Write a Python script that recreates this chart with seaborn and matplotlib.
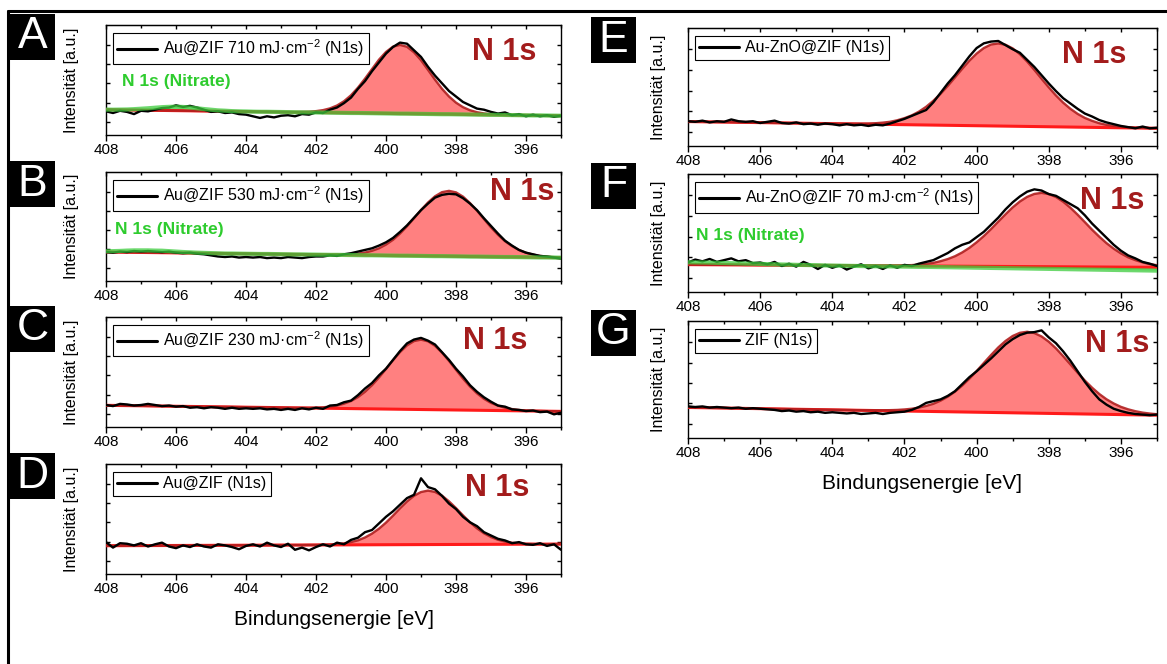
import numpy as np
import matplotlib
matplotlib.use("Agg")
import matplotlib.pyplot as plt
import seaborn as sns
from matplotlib.lines import Line2D
from matplotlib.patches import Rectangle
from matplotlib.ticker import MultipleLocator

# binding energy of the scans (eV), 408 -> 395 in 0.2 eV steps
energy = np.linspace(408.0, 395.0, 66)

# A: Au@ZIF 710 mJ/cm2
a_raw = [21.5, 20, 22, 21, 19, 22, 21.5, 23, 24.5, 25,
         27, 25.5, 26.5, 25, 23, 21, 21.5, 20, 20.5, 19,
         18.5, 17, 15.5, 17, 16, 17.5, 18, 17, 19, 18.5,
         20.5, 20, 23, 25, 29, 34, 42, 49, 58, 66,
         74, 80, 84, 83, 77, 71, 62, 54, 47, 40,
         35, 30, 27, 24, 23, 21, 19.5, 20.5, 18, 19,
         17, 18.5, 17, 18, 16.5, 17.5]
a_fit = [23.0, 22.9, 22.8, 22.7, 22.7, 22.6, 22.5, 22.4, 22.3, 22.2,
         22.2, 22.1, 22.0, 21.9, 21.8, 21.7, 21.6, 21.6, 21.5, 21.4,
         21.3, 21.2, 21.1, 21.1, 21.0, 20.9, 20.8, 20.7, 20.9, 21.1,
         21.7, 22.6, 24.2, 26.8, 30.7, 36.1, 43.1, 51.2, 59.9, 68.5,
         75.5, 80.3, 81.9, 80.2, 75.2, 68.0, 59.2, 50.3, 42.0, 35.0,
         29.4, 25.3, 22.5, 20.7, 19.6, 18.9, 18.5, 18.2, 18.1, 18.0,
         17.9, 17.8, 17.8, 17.7, 17.6, 17.5]
a_nitrate = [23.1, 23.0, 23.1, 23.2, 23.5, 23.9, 24.3, 24.8, 25.3, 25.6,
             25.7, 25.5, 25.0, 24.3, 23.6, 23.0, 22.4, 22.1, 21.7, 21.5,
             21.4, 21.2, 21.1, 21.1, 21.0, 20.9, 20.8, 20.7, 20.6, 20.5,
             20.5, 20.4, 20.3, 20.2, 20.1, 20.0, 20.0, 19.9, 19.8, 19.7,
             19.6, 19.5, 19.4, 19.4, 19.3, 19.2, 19.1, 19.0, 18.9, 18.9,
             18.8, 18.7, 18.6, 18.5, 18.4, 18.3, 18.3, 18.2, 18.1, 18.0,
             17.9, 17.8, 17.8, 17.7, 17.6, 17.5]
a_bg = [23.0, 17.5]

# B: Au@ZIF 530 mJ/cm2
b_raw = [26.5, 26, 27, 26.5, 27.5, 27, 27.5, 27, 26.5, 27,
         26, 25.5, 26, 25, 24.5, 23.5, 22.5, 22, 22.5, 21.5,
         22, 21.5, 22, 21, 21.5, 21, 22, 21.5, 21, 22,
         22.5, 22.5, 23.5, 23, 24.5, 25.5, 27, 28.5, 30, 32.5,
         35.5, 39.5, 45, 51, 58, 65, 71, 76.5, 79, 80,
         79.5, 76, 71, 65, 57.5, 50.5, 43.5, 37, 32.5, 28.5,
         26, 24.5, 23, 22.5, 21.5, 20.5]
b_fit = [26.6, 26.5, 26.4, 26.4, 26.3, 26.2, 26.1, 26.0, 26.0, 25.9,
         25.8, 25.7, 25.6, 25.6, 25.5, 25.4, 25.3, 25.2, 25.2, 25.1,
         25.0, 24.9, 24.8, 24.8, 24.7, 24.6, 24.5, 24.4, 24.4, 24.3,
         24.2, 24.1, 24.1, 24.2, 24.3, 24.6, 25.1, 26.1, 27.7, 30.0,
         33.4, 37.8, 43.5, 50.2, 57.6, 65.1, 72.0, 77.7, 81.5, 82.7,
         81.3, 77.4, 71.5, 64.5, 56.8, 49.2, 42.4, 36.5, 32.0, 28.4,
         25.9, 24.2, 23.0, 22.4, 21.9, 21.6]
b_nitrate = [27.3, 27.4, 27.6, 27.9, 28.1, 28.1, 28.1, 27.9, 27.8, 27.4,
             27.0, 26.6, 26.3, 26.0, 25.8, 25.6, 25.4, 25.2, 25.2, 25.1,
             25.0, 24.9, 24.8, 24.8, 24.7, 24.6, 24.5, 24.4, 24.4, 24.3,
             24.2, 24.1, 24.0, 24.0, 23.9, 23.8, 23.7, 23.6, 23.6, 23.5,
             23.4, 23.3, 23.2, 23.2, 23.1, 23.0, 22.9, 22.8, 22.8, 22.7,
             22.6, 22.5, 22.4, 22.4, 22.3, 22.2, 22.1, 22.0, 22.0, 21.9,
             21.8, 21.7, 21.6, 21.6, 21.5, 21.4]
b_bg = [26.6, 21.4]

# C: Au@ZIF 230 mJ/cm2
c_raw = [20, 19, 21, 20.5, 19.5, 20, 21, 20, 19, 19.5,
         18.5, 19, 17.5, 18, 17, 18, 17.5, 16.5, 17.5, 16.5,
         17, 16.5, 17, 16, 16.5, 15.5, 16.5, 15.5, 17, 16,
         17.5, 16.5, 19.5, 20, 22.5, 24, 29, 35, 40, 47,
         53, 61, 69, 76, 79.5, 81, 78.5, 75, 68, 61,
         53, 46, 38, 32, 27, 23, 19.5, 18.5, 16, 15.5,
         14.5, 15, 13.5, 14, 11.5, 13]
c_fit = [19.7, 19.6, 19.5, 19.4, 19.4, 19.3, 19.2, 19.1, 19.0, 18.9,
         18.9, 18.8, 18.7, 18.6, 18.5, 18.4, 18.3, 18.3, 18.2, 18.1,
         18.0, 17.9, 17.8, 17.8, 17.7, 17.6, 17.5, 17.4, 17.4, 17.4,
         17.6, 17.9, 18.5, 19.5, 21.2, 23.6, 27.2, 32.0, 38.0, 45.0,
         52.8, 60.7, 68.1, 74.2, 78.1, 79.4, 77.9, 73.8, 67.6, 60.1,
         52.0, 44.0, 36.8, 30.6, 25.6, 21.9, 19.4, 17.5, 16.3, 15.5,
         15.0, 14.7, 14.6, 14.4, 14.3, 14.2]
c_bg = [19.7, 14.2]

# D: Au@ZIF
d_raw = [29, 24, 28, 27.5, 26, 28, 25, 27, 28.5, 25,
         23.5, 26, 24.5, 27, 25, 24, 27, 26, 24.5, 22.5,
         25.5, 27, 25, 28.5, 26, 24.5, 27.5, 22, 24, 21.5,
         24.5, 27, 25, 28.5, 27, 31, 33, 38, 40, 46,
         52, 57, 63, 69, 72, 87, 79, 77, 71, 64,
         59, 52, 47, 43.5, 38, 35, 32, 30.5, 28, 29,
         27, 26.5, 28, 25.5, 27, 22]
d_fit = [25.7, 25.7, 25.7, 25.8, 25.8, 25.8, 25.8, 25.9, 25.9, 25.9,
         25.9, 25.9, 26.0, 26.0, 26.0, 26.0, 26.1, 26.1, 26.1, 26.1,
         26.2, 26.2, 26.2, 26.2, 26.3, 26.3, 26.3, 26.3, 26.3, 26.4,
         26.4, 26.6, 26.8, 27.3, 27.9, 29.0, 30.6, 33.2, 36.7, 41.2,
         46.7, 53.0, 59.7, 65.9, 71.1, 74.5, 75.8, 74.6, 71.2, 66.0,
         59.9, 53.3, 47.0, 41.5, 37.0, 33.6, 31.1, 29.5, 28.4, 27.9,
         27.5, 27.3, 27.1, 27.1, 27.2, 27.2]
d_bg = [25.7, 27.2]

# E: Au-ZnO@ZIF
e_raw = [21, 20.5, 21.5, 20, 21, 20.5, 22.5, 21, 20.5, 21,
         19.5, 20.5, 21.5, 19.5, 19, 20, 18.5, 19, 18, 19,
         18.5, 17.5, 18.5, 17.5, 18, 17, 18, 17.5, 19, 21,
         23, 25.5, 28, 30.5, 37, 45, 53, 60, 68, 76,
         83, 87, 88.5, 89, 85.5, 82, 79, 73, 67, 60,
         53, 46.5, 40.5, 36, 31.5, 27.5, 25, 22, 20, 18.5,
         17, 16, 15, 16.5, 15, 15.5]
e_fit = [20.7, 20.6, 20.5, 20.4, 20.3, 20.3, 20.2, 20.1, 20.0, 19.9,
         19.8, 19.7, 19.6, 19.6, 19.5, 19.4, 19.3, 19.2, 19.1, 19.0,
         18.9, 18.9, 18.9, 18.9, 18.9, 19.0, 19.3, 19.8, 20.5, 21.8,
         23.6, 25.9, 29.1, 33.2, 38.3, 44.2, 50.9, 58.1, 65.4, 72.3,
         78.3, 83.0, 86.0, 86.9, 85.8, 82.7, 77.8, 71.6, 64.5, 57.0,
         49.7, 42.8, 36.7, 31.5, 27.2, 23.8, 21.3, 19.3, 17.9, 17.0,
         16.3, 15.9, 15.6, 15.4, 15.2, 15.0]
e_bg = [20.7, 15.0]

# F: Au-ZnO@ZIF 70 mJ/cm2
f_raw = [25, 27.5, 26, 28, 25.5, 27, 28.5, 26, 27, 24.5,
         25, 23.5, 25.5, 22, 24, 21.5, 25.5, 23, 19.5, 23,
         20.5, 22.5, 19, 21.5, 23.5, 20, 22, 19.5, 22.5, 20.5,
         23, 22, 24, 25.5, 27, 30, 33, 37, 40, 42,
         46.5, 51, 57, 63, 70, 76, 81, 85, 87, 86,
         83, 81.5, 78, 74.5, 71, 65, 58, 52, 46, 40,
         35, 31, 28.5, 25.5, 24, 22]
f_fit = [23.2, 23.2, 23.1, 23.1, 23.1, 23.0, 23.0, 23.0, 22.9, 22.9,
         22.8, 22.8, 22.8, 22.7, 22.7, 22.7, 22.6, 22.6, 22.6, 22.5,
         22.5, 22.5, 22.4, 22.4, 22.4, 22.3, 22.3, 22.2, 22.3, 22.4,
         22.5, 22.8, 23.2, 23.8, 24.7, 26.1, 27.9, 30.3, 33.5, 37.4,
         42.1, 47.4, 53.3, 59.6, 65.8, 71.7, 76.7, 80.6, 83.1, 84.0,
         83.0, 80.5, 76.5, 71.4, 65.5, 59.2, 52.8, 46.9, 41.4, 36.7,
         32.7, 29.4, 27.0, 25.1, 23.6, 22.7]
f_nitrate = [25.2, 25.1, 25.0, 24.9, 24.7, 24.6, 24.4, 24.3, 24.1, 24.0,
             23.8, 23.6, 23.5, 23.3, 23.2, 23.0, 22.9, 22.8, 22.7, 22.5,
             22.4, 22.3, 22.2, 22.1, 22.0, 21.9, 21.8, 21.7, 21.7, 21.6,
             21.5, 21.4, 21.3, 21.3, 21.2, 21.1, 21.0, 20.9, 20.8, 20.7,
             20.6, 20.5, 20.4, 20.3, 20.2, 20.1, 20.0, 19.9, 19.8, 19.7,
             19.6, 19.5, 19.4, 19.3, 19.2, 19.1, 19.0, 18.9, 18.8, 18.7,
             18.6, 18.5, 18.4, 18.3, 18.2, 18.1]
f_bg = [23.2, 20.9]

# G: ZIF
g_raw = [27, 26.5, 27, 26, 26.5, 26, 25.5, 26, 25, 25.5,
         25, 24.5, 24, 23, 23.5, 22.5, 23, 22, 22.5, 21.5,
         22, 21.5, 21, 21.5, 20.5, 21, 21.5, 20.5, 21.5, 22,
         22.5, 24, 26.5, 30, 31.5, 33, 36, 40, 46, 52,
         57, 62.5, 68, 74, 80, 84.5, 88, 90, 90.5, 92,
         86, 81, 74, 66, 57, 48, 40, 33, 28.5, 25,
         23, 21.5, 20.5, 20, 19.5, 20]
g_fit = [26.1, 26.0, 25.9, 25.8, 25.7, 25.6, 25.5, 25.4, 25.3, 25.2,
         25.1, 25.0, 24.9, 24.8, 24.7, 24.6, 24.5, 24.4, 24.3, 24.2,
         24.1, 24.0, 23.9, 23.8, 23.7, 23.7, 23.7, 23.7, 23.8, 24.0,
         24.4, 25.0, 26.0, 27.4, 29.2, 31.9, 35.3, 39.6, 44.8, 50.7,
         57.2, 64.1, 70.9, 77.4, 82.9, 87.2, 89.9, 90.8, 89.7, 86.8,
         82.3, 76.6, 69.9, 62.9, 55.8, 49.1, 43.0, 37.6, 33.1, 29.5,
         26.6, 24.5, 22.9, 21.7, 20.9, 20.3]
g_bg = [26.1, 19.5]

labels = [
    "Au@ZIF 710 mJ\u00b7cm$^{-2}$ (N1s)",
    "Au@ZIF 530 mJ\u00b7cm$^{-2}$ (N1s)",
    "Au@ZIF 230 mJ\u00b7cm$^{-2}$ (N1s)",
    "Au@ZIF (N1s)",
    "Au-ZnO@ZIF (N1s)",
    "Au-ZnO@ZIF 70 mJ\u00b7cm$^{-2}$ (N1s)",
    "ZIF (N1s)",
]

W, H = 1167, 664
SALMON = "#ff8080"
RED = "#ff1a1a"
DARK_RED = "#b02020"
GREEN = "#3dcc3d"
LIGHT_GREEN = "#a6e8a6"
N1S_COLOR = "#a31c1c"

sns.set_style("ticks")
plt.rcParams["font.family"] = ["Liberation Sans", "DejaVu Sans"]
plt.rcParams["mathtext.fontset"] = "custom"
plt.rcParams["mathtext.rm"] = "Liberation Sans"
plt.rcParams["mathtext.it"] = "Liberation Sans:italic"
for key in ("text.color", "axes.labelcolor", "xtick.color", "ytick.color", "axes.edgecolor"):
    plt.rcParams[key] = "black"

# (tag, raw, fit, bg, nitrate, label, left/top/width/height in px, "N 1s" pos, nitrate text pos, xlabel)
panels = [
    ("A", a_raw, a_fit, a_bg, a_nitrate, labels[0], (106, 25, 455, 110), (0.875, 0.75), (0.035, 0.485), False),
    ("B", b_raw, b_fit, b_bg, b_nitrate, labels[1], (106, 172, 455, 109), (0.915, 0.82), (0.02, 0.475), False),
    ("C", c_raw, c_fit, c_bg, None, labels[2], (106, 317, 455, 110), (0.855, 0.78), None, False),
    ("D", d_raw, d_fit, d_bg, None, labels[3], (106, 464, 455, 110), (0.86, 0.78), None, True),
    ("E", e_raw, e_fit, e_bg, None, labels[4], (688, 28, 469, 118), (0.867, 0.77), None, False),
    ("F", f_raw, f_fit, f_bg, f_nitrate, labels[5], (688, 174, 469, 118), (0.905, 0.77), (0.018, 0.478), False),
    ("G", g_raw, g_fit, g_bg, None, labels[6], (688, 321, 469, 117), (0.915, 0.80), None, True),
]

fig = plt.figure(figsize=(W / 100, H / 100), dpi=100)

for tag, raw, fit, bg, nitrate, label, (left, top, width, height), n1s_xy, nit_xy, show_xlabel in panels:
    ax = fig.add_axes([left / W, 1 - (top + height) / H, width / W, height / H])
    x_poly = np.concatenate([energy, [energy[-1], energy[0]]])

    if nitrate is not None:
        ax.fill(x_poly, np.concatenate([nitrate, bg[::-1]]), color=LIGHT_GREEN, lw=0, alpha=0.8, zorder=1)
    ax.fill(x_poly, np.concatenate([fit, bg[::-1]]), color=SALMON, lw=0, zorder=2)
    ax.plot([energy[0], energy[-1]], bg, color=RED, lw=2.2, zorder=3)
    ax.plot(energy, fit, color=DARK_RED, lw=1.7, alpha=0.9, zorder=4)
    sns.lineplot(x=energy, y=raw, ax=ax, color="black", linewidth=1.7, label=label,
                 sort=False, estimator=None, zorder=5)
    if nitrate is not None:
        ax.plot(energy, nitrate, color=GREEN, lw=3, alpha=0.75, zorder=6)
        ax.text(nit_xy[0], nit_xy[1], "N 1s (Nitrate)", transform=ax.transAxes, color="#2ecc2e",
                fontsize=12.5, fontweight="bold", ha="left", va="center")

    ax.text(n1s_xy[0], n1s_xy[1], "N 1s", transform=ax.transAxes, color=N1S_COLOR,
            fontsize=22, fontweight="bold", ha="center", va="center")

    leg = ax.legend(loc="upper left", bbox_to_anchor=(7 / width, 1 - 8 / height), borderaxespad=0,
                    frameon=True, fancybox=False, edgecolor="black", framealpha=1, fontsize=11.5,
                    handlelength=2.5, handletextpad=0.35, borderpad=0.28)
    leg.get_frame().set_linewidth(0.8)
    for line in leg.get_lines():
        line.set_linewidth(2.2)

    ax.set_xlim(408, 395)
    ax.set_ylim(0, 100)
    ax.xaxis.set_major_locator(MultipleLocator(2))
    ax.xaxis.set_minor_locator(MultipleLocator(1))
    ax.set_yticks([12, 29.5, 47, 64.5, 82])
    ax.tick_params(axis="x", which="major", direction="out", length=4, width=1, labelsize=11, pad=2)
    ax.tick_params(axis="x", which="minor", direction="out", length=2.5, width=1)
    ax.tick_params(axis="y", direction="in", left=True, right=True, labelleft=False, length=3, width=1)
    for spine in ax.spines.values():
        spine.set_visible(True)
        spine.set_linewidth(1)

    top_axis = ax.secondary_xaxis("top")
    top_axis.xaxis.set_major_locator(MultipleLocator(2))
    top_axis.xaxis.set_minor_locator(MultipleLocator(1))
    top_axis.tick_params(which="major", direction="in", length=3, width=1, labeltop=False)
    top_axis.tick_params(which="minor", direction="in", length=2, width=1)

    ax.set_ylabel("Intensität [a.u.]", fontsize=11.5)
    ax.yaxis.set_label_coords(-(27 if left < 600 else 22) / width, 0.5)
    if show_xlabel:
        ax.set_xlabel("Bindungsenergie [eV]", fontsize=15)
        ax.xaxis.set_label_coords(0.5, -36 / height)
    else:
        ax.set_xlabel("")

    # black tag box with the panel letter
    box_left = 10 if left < 600 else 591
    box_top = top - 11
    fig.add_artist(Rectangle((box_left / W, 1 - (box_top + 46) / H), 45 / W, 46 / H,
                             transform=fig.transFigure, facecolor="black", edgecolor="none"))
    fig.text((box_left + 22.5) / W, 1 - (box_top + 23) / H, tag, color="white", fontsize=32,
             ha="center", va="center")

# outer frame (top and left edges)
fig.add_artist(Line2D([8 / W, 1], [1 - 11 / H, 1 - 11 / H], color="black", lw=2.2, transform=fig.transFigure))
fig.add_artist(Line2D([8 / W, 8 / W], [0, 1 - 11 / H], color="black", lw=2.2, transform=fig.transFigure))

fig.savefig("out.png", dpi=100)
